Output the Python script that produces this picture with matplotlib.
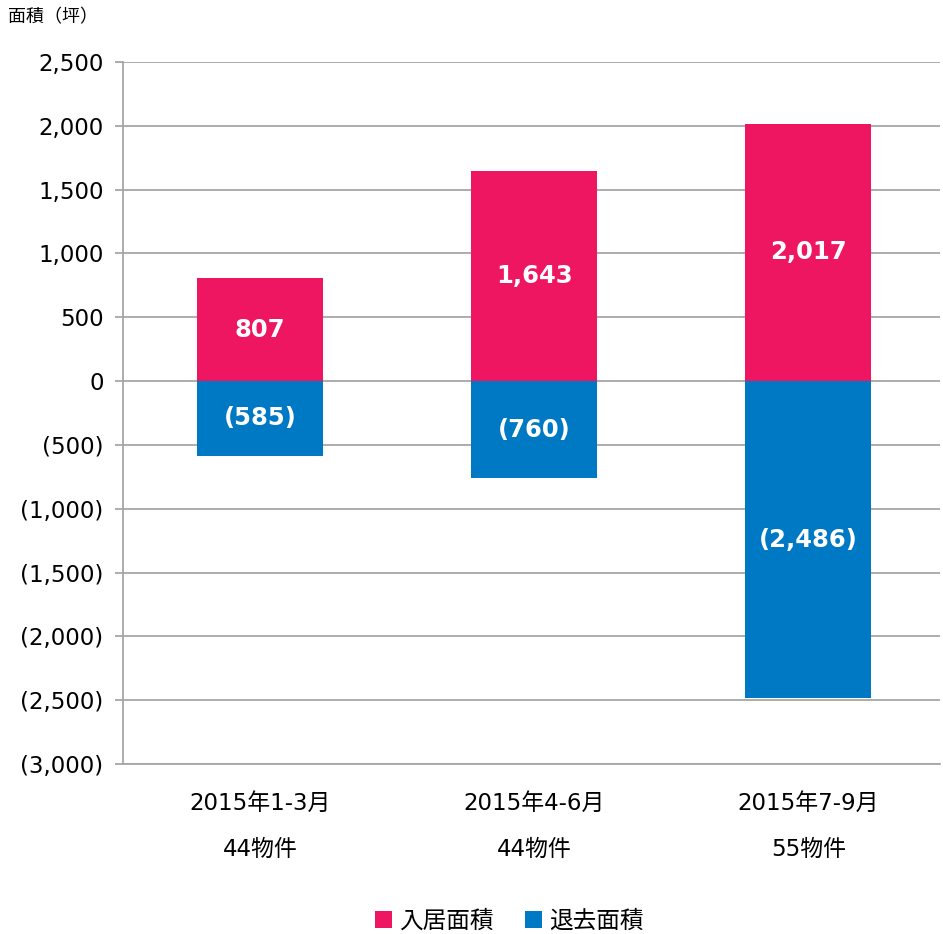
import matplotlib
matplotlib.use("Agg")
import matplotlib.pyplot as plt
import numpy as np

plt.rcParams['font.family'] = ['DejaVu Sans', 'Noto Sans CJK JP']

categories = ["2015年1-3月\n44物件", "2015年4-6月\n44物件", "2015年7-9月\n55物件"]
move_in = [807, 1643, 2017]
move_out = [-585, -760, -2486]
yticks = [2500, 2000, 1500, 1000, 500, 0, -500, -1000, -1500, -2000, -2500, -3000]

PINK = "#EE1660"
BLUE = "#0079C5"
GRID = "#A6A6A6"

def fmt(v):
    return f"({abs(v):,})" if v < 0 else f"{v:,}"

fig = plt.figure(figsize=(9.43, 9.34), dpi=100)
ax = fig.add_axes([0.1304, 0.182, 0.8664, 0.7516])

x = np.arange(len(categories))
w = 0.46
ax.bar(x, move_in, w, color=PINK, zorder=3, label="入居面積")
ax.bar(x, move_out, w, color=BLUE, zorder=3, label="退去面積")

for xi, v in zip(x, move_in):
    ax.text(xi, v / 2, fmt(v), ha="center", va="center", color="white",
            fontsize=17.5, fontweight="bold", zorder=4)
for xi, v in zip(x, move_out):
    ax.text(xi, v / 2, fmt(v), ha="center", va="center", color="white",
            fontsize=17.5, fontweight="bold", zorder=4)

ax.set_xlim(-0.5, 2.48)
ax.set_ylim(-3000, 2500)
ax.set_yticks(yticks)
ax.set_yticklabels([fmt(t) for t in yticks], fontsize=16.5)
ax.set_xticks(x)
ax.set_xticklabels(categories, fontsize=16.5, linespacing=2.3)
ax.yaxis.grid(True, color=GRID, linewidth=1.3, zorder=0)
ax.tick_params(axis="x", length=0, pad=20)
ax.tick_params(axis="y", length=6, color=GRID, width=1.3, pad=8)
for s in ["top", "right"]:
    ax.spines[s].set_visible(False)
for s in ["left", "bottom"]:
    ax.spines[s].set_color(GRID)
    ax.spines[s].set_linewidth(1.3)

fig.text(0.008, 0.981, "面積（坪）", fontsize=13, ha="left", va="center")

fig.legend(loc="center", bbox_to_anchor=(0.54, 0.014), ncol=2, frameon=False,
           fontsize=17, handlelength=0.75, handleheight=0.75, handletextpad=0.3,
           columnspacing=1.3)

fig.savefig("out.png", dpi=100)
